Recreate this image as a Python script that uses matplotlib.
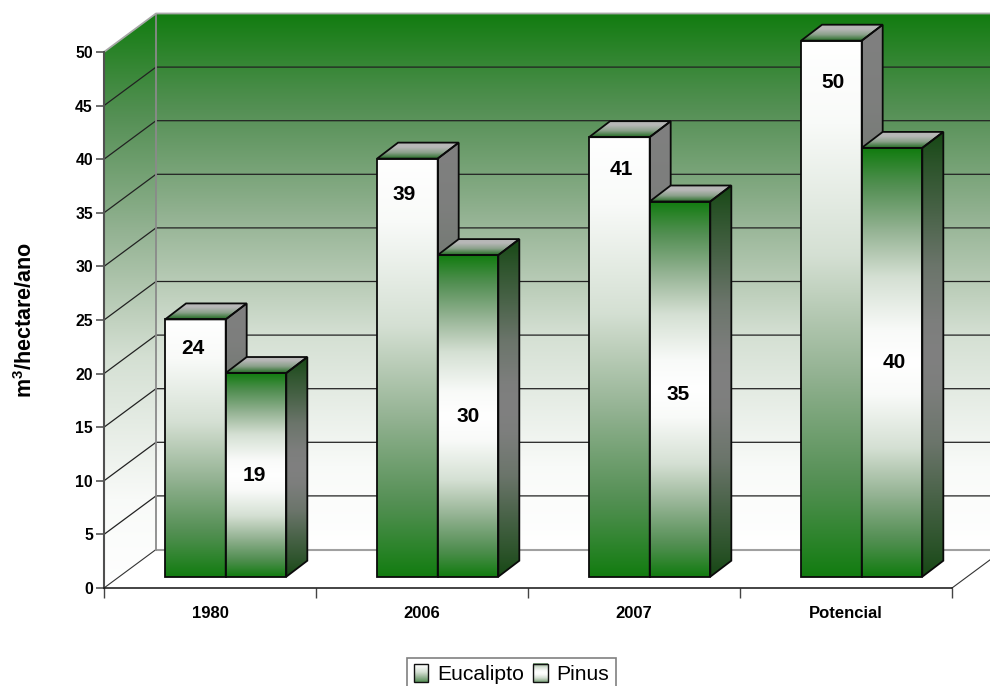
import numpy as np
import matplotlib
matplotlib.use("Agg")
import matplotlib.pyplot as plt
from matplotlib.patches import Polygon, Patch

categories = ["1980", "2006", "2007", "Potencial"]
eucalipto = [24, 39, 41, 50]
pinus = [19, 30, 35, 40]
y_ticks = list(range(0, 55, 5))

# style / layout
W, H = 990, 686
L, R, T, B = 104, 952, 52, 588
GREEN = np.array([0x12, 0x7c, 0x10]) / 255
WHITE = np.ones(3)
DARK = np.array([0x17, 0x48, 0x15]) / 255
GRAY = np.array([0x80, 0x80, 0x80]) / 255
BAR_W = 0.286
BAR_START = 0.288
BASE_PX = 11.3
DEPTH = (21, 16)
WALL = (52, 38.5)
EDGE_LW = 1.3
euc_nudge_y = [29, 36, 32, 42]
pin_nudge_y = [1, 1, 5, 0]
euc_nudge_x = [-3, -4, 1, 1]
pin_nudge_x = [-2, -1, -3, 2]

plt.rcParams["font.family"] = ["Liberation Sans", "DejaVu Sans"]
plt.rcParams["mathtext.fontset"] = "custom"
plt.rcParams["mathtext.bf"] = "Liberation Sans:bold"
plt.rcParams["mathtext.rm"] = "Liberation Sans"

fig = plt.figure(figsize=(W / 100, H / 100), dpi=100)
ax = fig.add_axes([L / W, (H - B) / H, (R - L) / W, (B - T) / H])
ax.set_xlim(0, 4)
ax.set_ylim(0, 50)
sx = 4 / (R - L)
sy = 50 / (B - T)

F_STOPS = [0, .3, .5, .75, 1]
C_STOPS = np.array([[255, 255, 255], [191, 208, 189], [147, 178, 146], [85, 144, 85], [18, 124, 16]]) / 255


def ramp(t):
    return np.interp(t, [0, .15, .4, .66, .86, 1], [0, .03, .2, .55, .8, 1])


def green_ramp(t):
    f = ramp(t)
    return np.stack([np.interp(f, F_STOPS, C_STOPS[:, k]) for k in range(3)], axis=1)


def mix(a, b, f):
    return a[None, :] * (1 - f[:, None]) + b[None, :] * f[:, None]


def grad(poly, colors, z):
    """Fill a polygon (data coords) with a vertical list of colours (top first)."""
    poly = np.asarray(poly)
    ext = (poly[:, 0].min(), poly[:, 0].max(), poly[:, 1].min(), poly[:, 1].max())
    im = ax.imshow(colors[:, None, :], extent=ext, aspect="auto", zorder=z,
                   interpolation="bilinear", origin="upper")
    clip = Polygon(poly, closed=True, transform=ax.transData)
    im.set_clip_box(fig.bbox)
    im.set_clip_path(clip)
    ax.set_xlim(0, 4)
    ax.set_ylim(0, 50)


t = np.linspace(0, 1, 256)
wall_cols = green_ramp(1 - t)
euc_front = green_ramp(t)
pin_front = green_ramp(np.abs(2 * t - 1))
euc_side = mix(GRAY, DARK, ramp(t))
pin_side = mix(GRAY, DARK, ramp(np.abs(2 * t - 1)))
tf = np.interp(t, [0, .25, .6, 1], [0, 0, .3, 1])
top_cols = mix(np.array([.72, .72, .72]), np.array([.13, .42, .13]), tf)

wx, wy = WALL[0] * sx, WALL[1] * sy
x_far = 4 + wx
# side wall and back wall
grad([(0, 0), (wx, wy), (wx, 50 + wy), (0, 50)], wall_cols, 1)
grad([(wx, wy), (x_far, wy), (x_far, 50 + wy), (wx, 50 + wy)], wall_cols, 1)

for v in y_ticks[1:-1]:
    ax.plot([0, wx, x_far], [v, v + wy, v + wy], color="#222222", lw=0.9, zorder=2, clip_on=False)
ax.plot([0, wx], [0, wy], color="#333333", lw=0.8, zorder=2, clip_on=False)
ax.plot([4, x_far], [0, wy], color="#333333", lw=0.8, zorder=2, clip_on=False)
ax.plot([wx, x_far], [wy, wy], color="#a0a0a0", lw=1.5, zorder=2, clip_on=False)
ax.plot([wx, wx], [wy, 50 + wy], color="#8a8a8a", lw=1.3, zorder=2, clip_on=False)
ax.plot([0, wx, x_far], [50, 50 + wy, 50 + wy], color="#a8a8a8", lw=1.3, zorder=2, clip_on=False)

base = BASE_PX * sy
dx, dy = DEPTH[0] * sx, DEPTH[1] * sy
edge = dict(edgecolor="#0a0a0a", linewidth=EDGE_LW, fill=False, closed=True, clip_on=False)


def draw_bar(x, val, front, side, z):
    top = base + val
    xr = x + BAR_W
    side_poly = [(xr, base), (xr + dx, base + dy), (xr + dx, top + dy), (xr, top)]
    top_poly = [(x, top), (xr, top), (xr + dx, top + dy), (x + dx, top + dy)]
    grad(side_poly, side, z)
    grad(top_poly, top_cols, z)
    grad([(x, base), (xr, base), (xr, top), (x, top)], front, z)
    ax.add_patch(Polygon(side_poly, zorder=z + .1, **edge))
    ax.add_patch(Polygon(top_poly, zorder=z + .1, **edge))


for i, (e, p) in enumerate(zip(eucalipto, pinus)):
    x0 = i + BAR_START
    draw_bar(x0, e, euc_front, euc_side, 3 + i * 2)
    ax.bar(x0, e, BAR_W, bottom=base, align="edge", fill=False, edgecolor="#0a0a0a",
           linewidth=EDGE_LW, zorder=3.1 + i * 2, clip_on=False)
    draw_bar(x0 + BAR_W, p, pin_front, pin_side, 4 + i * 2)
    ax.bar(x0 + BAR_W, p, BAR_W, bottom=base, align="edge", fill=False, edgecolor="#0a0a0a",
           linewidth=EDGE_LW, zorder=4.1 + i * 2, clip_on=False)
    ax.text(x0 + BAR_W / 2 + 0.003 + euc_nudge_x[i] * sx, base + e - euc_nudge_y[i] * sy, str(e),
            ha="center", va="center", fontsize=15, fontweight="bold", color="black", zorder=20)
    ax.text(x0 + 1.5 * BAR_W + 0.003 + pin_nudge_x[i] * sx, base + p / 2 - pin_nudge_y[i] * sy, str(p),
            ha="center", va="center", fontsize=15, fontweight="bold", color="black", zorder=20)

# axes
for s in ("top", "right"):
    ax.spines[s].set_visible(False)
ax.spines["left"].set_color("#505050")
ax.spines["left"].set_linewidth(1.5)
ax.spines["bottom"].set_color("#111111")
ax.spines["bottom"].set_linewidth(1.1)
ax.patch.set_visible(False)
ax.set_yticks(y_ticks)
ax.set_xticks(range(5))
ax.set_xticklabels([])
ax.set_xticks([i + .5 for i in range(4)], minor=True)
ax.set_xticklabels(categories, minor=True, fontsize=12, fontweight="bold")
ax.tick_params(axis="x", which="minor", length=0, pad=13)
ax.tick_params(axis="x", which="major", length=7, width=1, color="#444444")
ax.tick_params(axis="y", length=6, width=1.2, color="#555555", pad=2, labelsize=11.3)
for lb in ax.get_yticklabels():
    lb.set_fontweight("bold")
ax.set_ylabel(r"m$\mathbf{^3}$/hectare/ano", fontsize=15.5, fontweight="bold")
ax.yaxis.set_label_coords((37 - L) / (R - L), (B - 320) / (B - T))

# legend
handles = [Patch(facecolor="none", edgecolor="#111111", linewidth=1, label="Eucalipto"),
           Patch(facecolor="none", edgecolor="#111111", linewidth=1, label="Pinus")]
leg = fig.legend(handles=handles, loc="upper center", ncol=2, fontsize=15.2, frameon=True,
                 fancybox=False, edgecolor="#808080", framealpha=1, borderpad=0.3,
                 handlelength=0.7, handleheight=0.95, handletextpad=0.4, columnspacing=0.45,
                 bbox_to_anchor=(511.5 / W, (H - 657.5) / H), borderaxespad=0)
leg.get_frame().set_linewidth(1.2)
leg.set_zorder(30)
fig.canvas.draw()
inv = ax.transData.inverted()
leg_cols = [green_ramp(0.8 * t + 0.02), green_ramp(0.7 * np.abs(2 * t - 1))]
for h, cols in zip(leg.legend_handles, leg_cols):
    bb = h.get_window_extent()
    (x1, y1), (x2, y2) = inv.transform([(bb.x0, bb.y0), (bb.x1, bb.y1)])
    im = ax.imshow(cols[:, None, :], extent=(x1, x2, y1, y2), aspect="auto", zorder=0.5,
                   interpolation="bilinear")
    im.set_clip_box(fig.bbox)
ax.set_xlim(0, 4)
ax.set_ylim(0, 50)
# The legend draws above the axes; a transparent frame lets the gradients show through.
leg.get_frame().set_facecolor("none")

fig.savefig("out.png", dpi=100)
